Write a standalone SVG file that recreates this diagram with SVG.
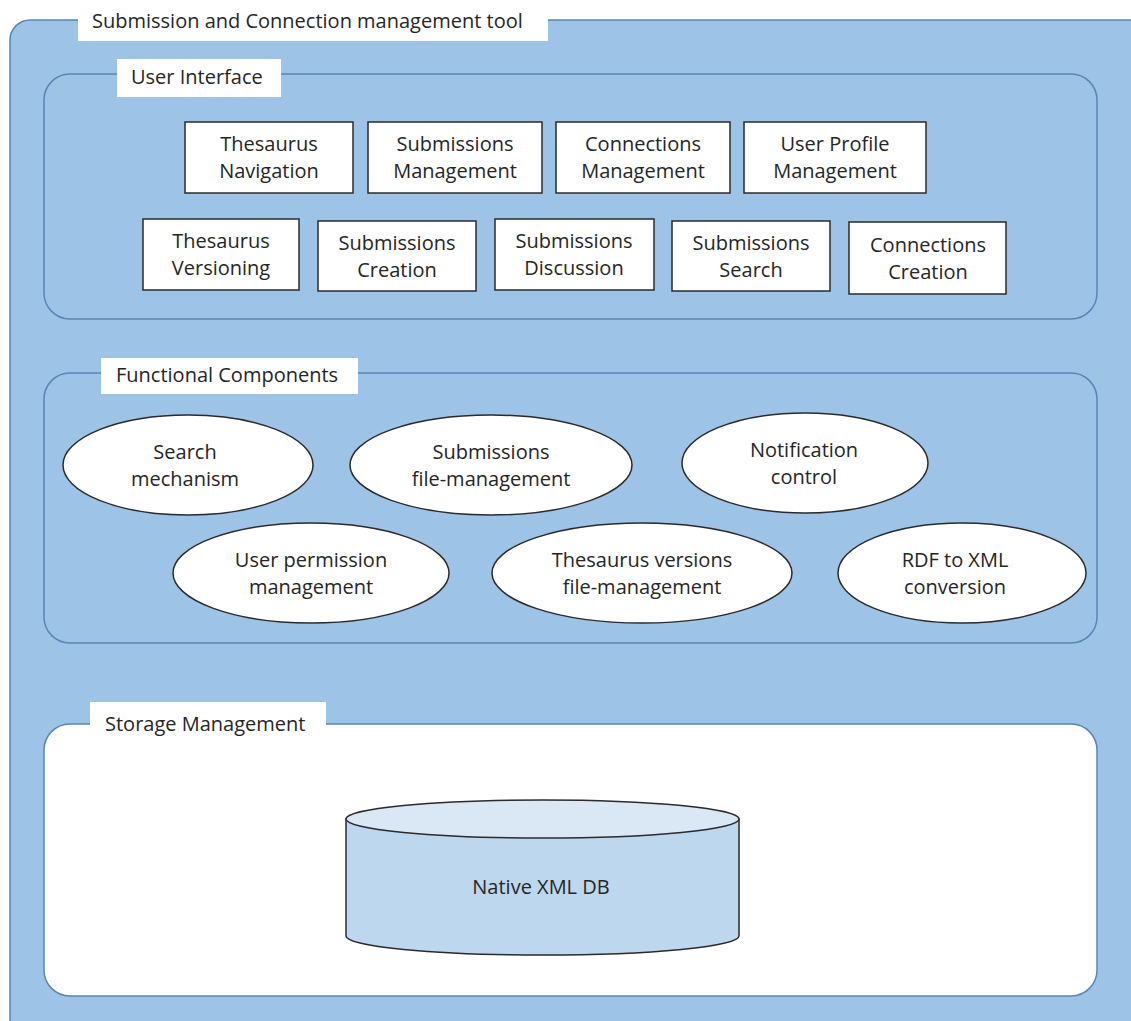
<svg xmlns="http://www.w3.org/2000/svg" width="1131" height="1021" viewBox="0 0 1131 1021">
<style>
text{font-family:"Open Sans","Noto Sans","Liberation Sans",sans-serif;fill:#262626;font-size:20px}
.c{text-anchor:middle}
.frame{stroke:#5a86b4;stroke-width:1.5}
.lbl{fill:#ffffff}
.box{fill:#ffffff;stroke:#2b2b2b;stroke-width:1.5}
.ell{fill:#ffffff;stroke:#2b2b2b;stroke-width:1.5}
</style>
<rect width="1131" height="1021" fill="#ffffff"/>
<g id="tool">
<rect class="frame" x="10" y="20" width="1140" height="1020" rx="20" fill="#9dc3e6"/>
<rect class="lbl" x="78" y="5" width="470" height="36"/>
<text x="92" y="28">Submission and Connection management tool</text>
</g>
<g id="ui">
<rect class="frame" x="44" y="74" width="1053" height="245" rx="26" fill="#9dc3e6"/>
<rect class="lbl" x="117" y="59" width="164" height="38"/>
<text x="131" y="84">User Interface</text>
</g>
<g id="n1"><rect class="box" x="185" y="122" width="168" height="71"/><text class="c" x="269" y="151">Thesaurus</text><text class="c" x="269" y="178">Navigation</text></g>
<g id="n2"><rect class="box" x="368" y="122" width="174" height="71"/><text class="c" x="455" y="151">Submissions</text><text class="c" x="455" y="178">Management</text></g>
<g id="n3"><rect class="box" x="556" y="122" width="174" height="71"/><text class="c" x="643" y="151">Connections</text><text class="c" x="643" y="178">Management</text></g>
<g id="n4"><rect class="box" x="744" y="122" width="182" height="71"/><text class="c" x="835" y="151">User Profile</text><text class="c" x="835" y="178">Management</text></g>
<g id="n5"><rect class="box" x="143" y="219" width="156" height="71"/><text class="c" x="221" y="248">Thesaurus</text><text class="c" x="221" y="275">Versioning</text></g>
<g id="n6"><rect class="box" x="318" y="221" width="158" height="70"/><text class="c" x="397" y="250">Submissions</text><text class="c" x="397" y="277">Creation</text></g>
<g id="n7"><rect class="box" x="495" y="219" width="159" height="71"/><text class="c" x="574" y="248">Submissions</text><text class="c" x="574" y="275">Discussion</text></g>
<g id="n8"><rect class="box" x="672" y="221" width="158" height="70"/><text class="c" x="751" y="250">Submissions</text><text class="c" x="751" y="277">Search</text></g>
<g id="n9"><rect class="box" x="849" y="222" width="157" height="72"/><text class="c" x="928" y="252">Connections</text><text class="c" x="928" y="279">Creation</text></g>
<g id="fc">
<rect class="frame" x="44" y="373" width="1053" height="270" rx="26" fill="#9dc3e6"/>
<rect class="lbl" x="101" y="358" width="257" height="36"/>
<text x="116" y="382">Functional Components</text>
</g>
<g id="e1"><ellipse class="ell" cx="188" cy="465" rx="125" ry="50"/><text class="c" x="185" y="459">Search</text><text class="c" x="185" y="486">mechanism</text></g>
<g id="e2"><ellipse class="ell" cx="491" cy="465" rx="141" ry="50"/><text class="c" x="491" y="459">Submissions</text><text class="c" x="491" y="486">file-management</text></g>
<g id="e3"><ellipse class="ell" cx="805" cy="463" rx="123" ry="50"/><text class="c" x="804" y="457">Notification</text><text class="c" x="804" y="484">control</text></g>
<g id="e4"><ellipse class="ell" cx="311" cy="573" rx="138" ry="50"/><text class="c" x="311" y="567">User permission</text><text class="c" x="311" y="594">management</text></g>
<g id="e5"><ellipse class="ell" cx="642" cy="573" rx="150" ry="50"/><text class="c" x="642" y="567">Thesaurus versions</text><text class="c" x="642" y="594">file-management</text></g>
<g id="e6"><ellipse class="ell" cx="962" cy="573" rx="124" ry="50"/><text class="c" x="955" y="567">RDF to XML</text><text class="c" x="955" y="594">conversion</text></g>
<g id="storage">
<rect class="frame" x="44" y="724" width="1053" height="272" rx="26" fill="#ffffff"/>
<rect class="lbl" x="90" y="702" width="236" height="38"/>
<text x="105" y="731">Storage Management</text>
</g>
<g id="db">
<path d="M346,819 L346,936 A196.5,19 0 0 0 739,936 L739,819 Z" fill="#bdd7ee" stroke="#2b2b2b" stroke-width="1.5"/>
<ellipse cx="542.5" cy="819" rx="196.5" ry="19" fill="#dae8f5" stroke="#2b2b2b" stroke-width="1.5"/>
<text class="c" x="541" y="894">Native XML DB</text>
</g>
<g id="connectors"></g>
</svg>
